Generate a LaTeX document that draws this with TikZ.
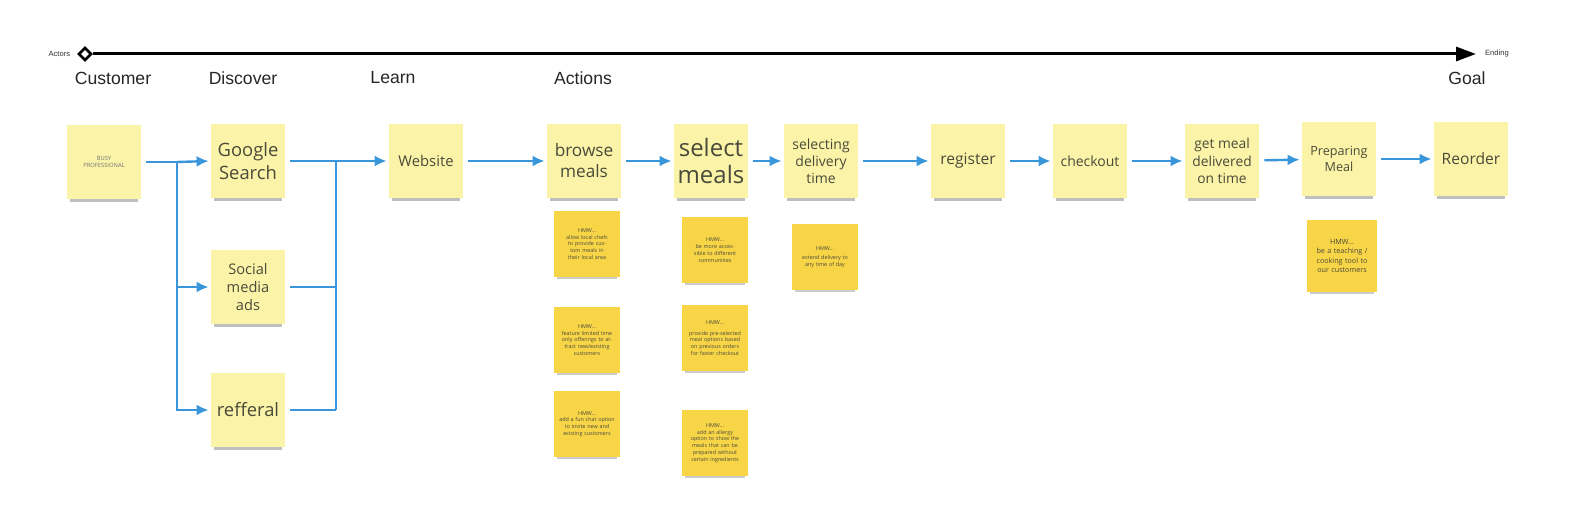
\documentclass[tikz,border=0pt]{standalone}
\usepackage{fontspec}
\setmainfont{Open Sans}
\newfontfamily\hdr{Liberation Sans}
\usetikzlibrary{arrows.meta,shadows,shapes.geometric}
\definecolor{notey}{HTML}{FBF4A8}
\definecolor{hmwy}{HTML}{F8D547}
\definecolor{flow}{HTML}{3A96DA}
\definecolor{notetext}{HTML}{4A4A3A}
\begin{document}
\begin{tikzpicture}[x=0.5pt,y=-0.5pt,
  sticky/.style={fill=notey, minimum width=37pt, minimum height=37pt, inner sep=1pt, align=center, text=notetext,
    drop shadow={shadow xshift=0pt, shadow yshift=-3pt, shadow scale=0.92, opacity=0.25, fill=black}},
  hmw/.style={fill=hmwy, minimum width=33pt, minimum height=33pt, text width=28pt, inner sep=2pt, align=center,
    font=\fontsize{2.7}{3.4}\selectfont, text=notetext,
    drop shadow={shadow xshift=0pt, shadow yshift=-2.4pt, shadow scale=0.92, opacity=0.2, fill=black}},
  flowline/.style={draw=flow, line width=1.2pt},
  flowarrow/.style={flowline, -{Latex[length=6pt,width=5.5pt]}},
  chain/.style={flowarrow, shorten <=2.5pt, shorten >=1pt},
  header/.style={font=\hdr\fontsize{8.8}{10}\selectfont, text=black!85},
  tinylabel/.style={font=\hdr\fontsize{3.8}{4.4}\selectfont, text=black!80}]
\useasboundingbox (0,0) rectangle (1581,519);

% timeline
\node[diamond, draw, line width=1.3pt, minimum size=6.5pt, inner sep=0pt, fill=white] (start) at (85,54) {};
\coordinate (end) at (1476,54);
\draw[line width=1.5pt, -{Triangle[length=10pt,width=7pt]}] (start) -- (end);
\node[tinylabel, anchor=east] (actors) at (start.west) {Actors};
\node[tinylabel, anchor=west] (ending) at (1478,54) {Ending};

% headers
\node[header] (hcust) at (113,78) {Customer};
\node[header] (hdisc) at (243,78) {Discover};
\node[header] (hlearn) at (393,78) {Learn};
\node[header] (hact) at (583,78) {Actions};
\node[header] (hgoal) at (1467,78) {Goal};

% main sticky notes
\node[sticky, font=\fontsize{2.9}{3.6}\selectfont, text=black!55] (busy) at (104,162) {BUSY\\PROFESSIONAL};
\node[sticky, font=\fontsize{9.2}{11.5}\selectfont] (google) at (248,161) {Google\\Search};
\node[sticky, font=\fontsize{7.3}{9.2}\selectfont] (social) at (248,287) {Social\\media\\ads};
\node[sticky, font=\fontsize{9.2}{11}\selectfont] (ref) at (248,410) {refferal};
\node[sticky, font=\fontsize{7.4}{9}\selectfont] (web) at (426,161) {Website};
\node[sticky, font=\fontsize{8.6}{10.5}\selectfont] (browse) at (584,161) {browse\\meals};
\node[sticky, font=\fontsize{12}{13.5}\selectfont] (select) at (711,161) {select\\meals};
\node[sticky, font=\fontsize{7}{8.6}\selectfont] (deliv) at (821,161) {selecting\\delivery\\time};
\node[sticky, font=\fontsize{7.8}{10}\selectfont] (reg) at (968,161) {register};
\node[sticky, font=\fontsize{7}{9}\selectfont] (check) at (1090,161) {checkout};
\node[sticky, font=\fontsize{6.9}{8.6}\selectfont] (getmeal) at (1222,161) {get meal\\delivered\\on time};
\node[sticky, font=\fontsize{6.3}{8.4}\selectfont] (prep) at (1339,159) {Preparing\\Meal};
\node[sticky, font=\fontsize{7.8}{9.5}\selectfont] (reorder) at (1471,159) {Reorder};

% HMW notes
\node[hmw] (h1) at (587,244) {HMW...\\allow local chefs to provide custom meals in their local area};
\node[hmw] (h2) at (587,340) {HMW...\\feature limited time only offerings to attract new/existing customers};
\node[hmw] (h3) at (587,424) {HMW...\\add a fun chat option to invite new and existing customers};
\node[hmw] (h4) at (715,250) {HMW...\\be more accessible to different communities};
\node[hmw] (h5) at (715,338) {HMW...\\[2pt]provide pre-selected meal options based on previous orders for faster checkout};
\node[hmw] (h6) at (715,443) {HMW...\\add an allergy option to show the meals that can be prepared without certain ingredients};
\node[hmw] (h7) at (825,257) {HMW...\\[1pt]extend delivery to any time of day};
\node[hmw, minimum width=35pt, minimum height=36pt, text width=31pt, font=\fontsize{3.6}{4.6}\selectfont] (h8) at (1342,256) {HMW...\\be a teaching / cooking tool to our customers};

% branching connectors
\coordinate (b1) at (177,162);
\coordinate (m1) at (336,161);
\draw[flowline, shorten <=2.5pt] (busy.east) -- (b1);
\draw[flowarrow, shorten >=1pt] (b1) -- (google.west);
\draw[flowarrow, shorten >=1pt] (b1) |- (social.west);
\draw[flowarrow, shorten >=1pt] (b1) |- (ref.west);
\draw[flowline, shorten <=2.5pt] (google.east) -- (m1);
\draw[flowline, shorten <=2.5pt] (social.east) -- (social.east -| m1);
\draw[flowline, shorten <=2.5pt] (ref.east) -- (ref.east -| m1);
\draw[flowline] (m1) -- (ref.east -| m1);
\draw[flowarrow, shorten >=1pt] (m1) -- (web.west);

% main chain
\draw[chain] (web) -- (browse);
\draw[chain] (browse) -- (select);
\draw[chain] (select) -- (deliv);
\draw[chain] (deliv) -- (reg);
\draw[chain] (reg) -- (check);
\draw[chain] (check) -- (getmeal);
\draw[chain] (getmeal) -- (prep);
\draw[chain] (prep) -- (reorder);
\end{tikzpicture}
\end{document}
